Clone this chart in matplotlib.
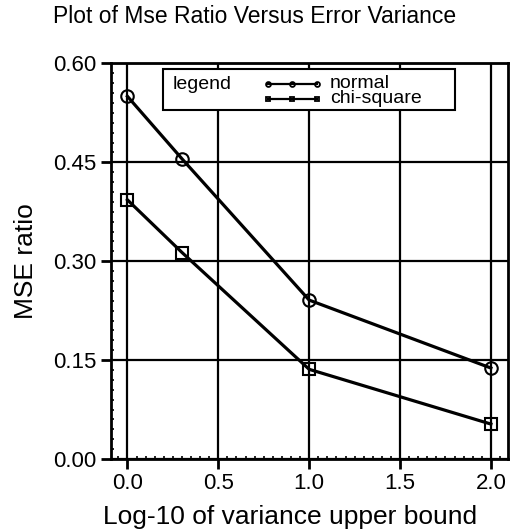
import numpy as np
import matplotlib
matplotlib.use("Agg")
import matplotlib.pyplot as plt
from matplotlib.ticker import MultipleLocator
from matplotlib.patches import Rectangle
from matplotlib.lines import Line2D

plt.rcParams['font.family'] = ['Liberation Sans', 'DejaVu Sans']

# data
log_var = [0.0, 0.301, 1.0, 2.0]
mse_normal = [0.550, 0.455, 0.241, 0.138]
mse_chisq = [0.393, 0.313, 0.136, 0.053]
series_labels = ['normal', 'chi-square']
x_ticks = [0.0, 0.5, 1.0, 1.5, 2.0]
y_ticks = [0.00, 0.15, 0.30, 0.45, 0.60]

fig = plt.figure(figsize=(5.15, 5.31), dpi=100)
ax = fig.add_axes([0.215, 0.1356, 0.771, 0.745])

ax.plot(log_var, mse_normal, color='black', lw=2.3, marker='o', ms=9,
        mfc='none', mec='black', mew=1.5, zorder=3)
ax.plot(log_var, mse_chisq, color='black', lw=2.3, marker='s', ms=8,
        mfc='none', mec='black', mew=1.5, zorder=3)

ax.set_xlim(-0.092, 2.093)
ax.set_ylim(0.0, 0.60)
ax.set_xticks(x_ticks)
ax.set_yticks(y_ticks)
ax.set_xticklabels(['%.1f' % v for v in x_ticks])
ax.set_yticklabels(['%.2f' % v for v in y_ticks])
ax.xaxis.set_minor_locator(MultipleLocator(0.05))
ax.yaxis.set_minor_locator(MultipleLocator(0.015))
ax.tick_params(which='major', direction='out', length=7, width=2, labelsize=16, pad=3)
ax.tick_params(which='minor', direction='in', length=2.5, width=1.2)
ax.grid(True, which='major', color='black', lw=1.6)
ax.set_axisbelow(True)
for s in ax.spines.values():
    s.set_linewidth(2)

ax.set_xlabel('Log-10 of variance upper bound', fontsize=19, va='center')
ax.xaxis.set_label_coords(0.451, -0.146)
ax.set_ylabel('MSE ratio', fontsize=19, va='center')
ax.yaxis.set_label_coords(-0.213, 0.5)
fig.text(0.103, 0.968, 'Plot of Mse Ratio Versus Error Variance', fontsize=16.5,
         ha='left', va='center')

# legend box drawn by hand
tr = ax.transAxes
ax.add_patch(Rectangle((0.132, 0.881), 0.734, 0.104, transform=tr, facecolor='white',
                       edgecolor='black', lw=1.5, zorder=5))
ax.text(0.156, 0.947, 'legend', transform=tr, fontsize=14, ha='left', va='center', zorder=6)
markers = ['o', 's']
for i, m in enumerate(markers):
    yy = 0.947 - i * 0.038
    ax.add_line(Line2D([0.396, 0.4575, 0.519], [yy, yy, yy], transform=tr, color='black', lw=1.6,
                       marker=m, ms=3.5, mfc='none', mec='black', mew=1.3, zorder=6))
# both labels in one text block, tightly spaced as in the reference
ax.text(0.552, 0.930, '\n'.join(series_labels), transform=tr, fontsize=14,
        ha='left', va='center', linespacing=0.8, zorder=6)

fig.savefig('out.png', dpi=100)
